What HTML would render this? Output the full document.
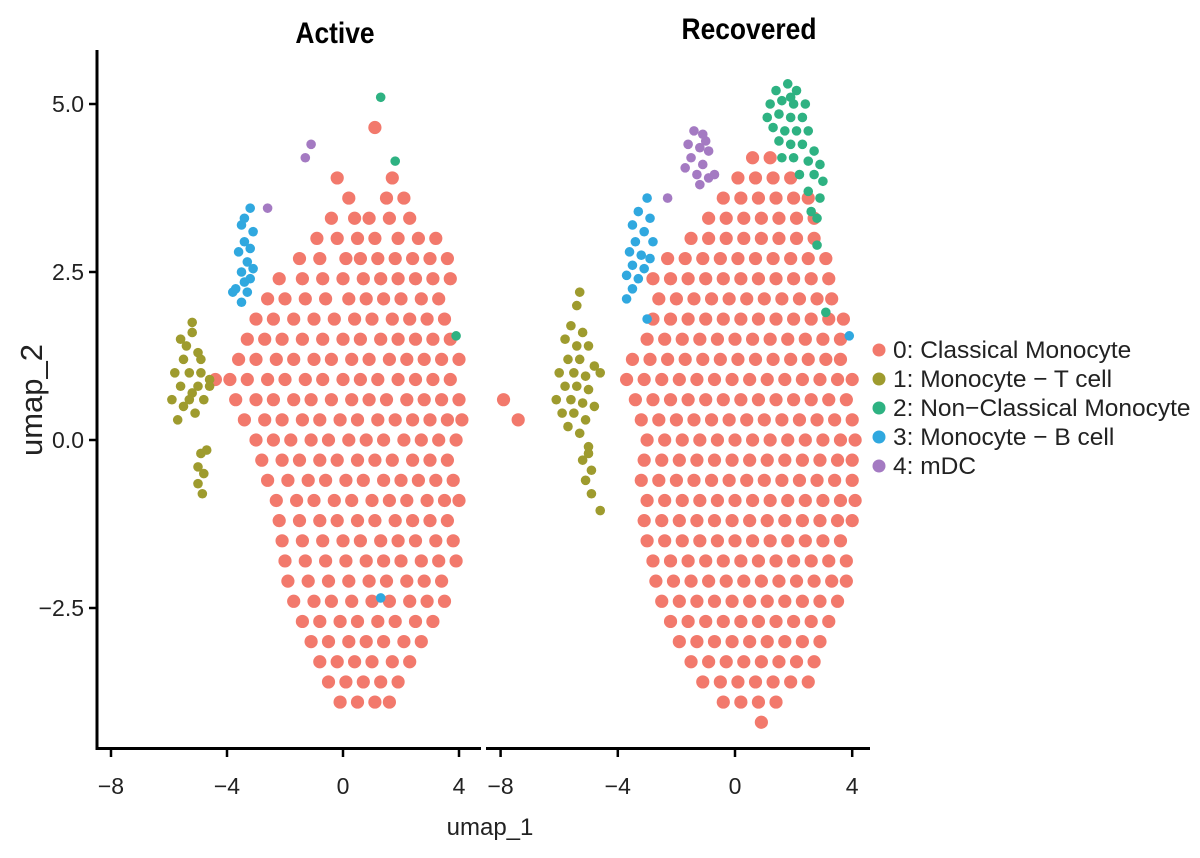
<!DOCTYPE html>
<html><head><meta charset="utf-8">
<style>
html,body{margin:0;padding:0;background:#fff;}
svg{display:block;font-family:"Liberation Sans",sans-serif;}
</style></head>
<body>
<svg id="chart" width="1200" height="858" viewBox="0 0 1200 858" xmlns="http://www.w3.org/2000/svg">
<g id="points"></g>
<g id="axes"></g>
</svg>
<script>
// ---- Data ----
const panels = ["Active", "Recovered"];
const clusterNames = ["0: Classical Monocyte","1: Monocyte \u2212 T cell","2: Non\u2212Classical Monocyte","3: Monocyte \u2212 B cell","4: mDC"];
const clusterColors = ["#F2796C","#9E9B2E","#2EB282","#30A8DF","#A47AC2"];
const xTicks = [-8,-4,0,4];
const xTickLabels = ["\u22128","\u22124","0","4"];
const yTicks = [5.0,2.5,0.0,-2.5];
const yTickLabels = ["5.0","2.5","0.0","\u22122.5"];

// rows: [y, x1, x2, ...] for cluster 0
const activeMainRows = [
[4.65,1.1],[3.9,1.7,-0.2],
[3.6,0.2,1.5,2.1],
[3.3,-0.4,0.4,0.9,1.6,2.3],
[3.0,-0.9,-0.2,0.5,1.1,1.9,2.6,3.2],
[2.7,-1.5,-0.8,0.1,0.6,1.2,1.8,2.4,3.0,3.6],
[2.4,-2.2,-1.4,-0.7,0.0,0.7,1.3,1.9,2.5,3.1,3.7],
[2.1,-2.6,-2.0,-1.3,-0.6,0.2,0.8,1.4,2.0,2.7,3.3],
[1.8,-3.0,-2.4,-1.7,-1.0,-0.3,0.4,1.0,1.7,2.3,2.9,3.5],
[1.5,-3.3,-2.7,-2.1,-1.4,-0.7,0.0,0.6,1.3,1.9,2.5,3.1,3.7],
[1.2,-3.6,-3.0,-2.3,-1.7,-1.0,-0.4,0.3,0.9,1.6,2.2,2.8,3.4,4.0],
[0.9,-4.4,-3.9,-3.3,-2.6,-2.0,-1.3,-0.7,0.0,0.6,1.2,1.9,2.5,3.1,3.7],
[0.6,-3.7,-3.0,-2.4,-1.7,-1.1,-0.4,0.3,0.9,1.5,2.2,2.8,3.4,4.0],
[0.3,-3.4,-2.7,-2.1,-1.4,-0.8,-0.1,0.5,1.2,1.8,2.4,3.0,3.6,4.1],
[0.0,-3.0,-2.4,-1.8,-1.1,-0.5,0.2,0.8,1.4,2.1,2.7,3.3,3.9],
[-0.3,-2.8,-2.1,-1.5,-0.8,-0.2,0.5,1.1,1.7,2.4,3.0,3.6],
[-0.6,-2.6,-1.9,-1.2,-0.6,0.1,0.7,1.4,2.0,2.6,3.2,3.8],
[-0.9,-2.3,-1.6,-1.0,-0.3,0.3,1.0,1.6,2.2,2.9,3.5,4.0],
[-1.2,-2.2,-1.5,-0.8,-0.2,0.5,1.1,1.8,2.4,3.0,3.6],
[-1.5,-2.1,-1.4,-0.7,0.0,0.6,1.3,1.9,2.5,3.2,3.8],
[-1.8,-2.0,-1.3,-0.6,0.1,0.8,1.4,2.0,2.7,3.3,3.9],
[-2.1,-1.9,-1.2,-0.5,0.2,0.9,1.5,2.2,2.8,3.4],
[-2.4,-1.7,-1.0,-0.4,0.3,1.0,1.6,2.3,2.9,3.5],
[-2.7,-1.4,-0.8,-0.1,0.5,1.2,1.8,2.5,3.1],
[-3.0,-1.1,-0.5,0.2,0.8,1.4,2.1,2.7],
[-3.3,-0.8,-0.2,0.4,1.0,1.7,2.3],
[-3.6,-0.5,0.1,0.7,1.3,1.9],
[-3.9,-0.1,0.5,1.1,1.6]
];
const activeOlive = [[-5.6,1.5],[-5.2,1.6],[-5.0,1.3],[-5.5,1.2],[-5.8,1.0],[-5.3,1.0],[-4.9,1.0],[-4.6,0.9],[-5.6,0.8],[-5.2,0.7],[-4.8,0.6],[-5.9,0.6],[-5.5,0.5],[-5.1,0.4],[-4.6,0.8],[-5.4,1.4],[-5.7,0.3],[-4.9,1.2],[-5.0,0.8],[-5.3,0.6],[-5.2,1.75],[-4.9,-0.2],[-5.0,-0.4],[-4.8,-0.5],[-5.0,-0.65],[-4.85,-0.8],[-4.7,-0.15]];
const activeGreen = [[1.3,5.1],[1.8,4.15],[3.9,1.55]];
const activeBlue = [[-3.2,3.45],[-3.5,3.2],[-3.1,3.1],[-3.4,2.95],[-3.2,2.85],[-3.6,2.8],[-3.3,2.65],[-3.1,2.55],[-3.5,2.5],[-3.4,2.35],[-3.7,2.25],[-3.3,2.2],[-3.5,2.05],[-3.8,2.2],[-3.2,2.4],[-3.4,3.3],[1.3,-2.35]];
const activePurple = [[-1.1,4.4],[-1.3,4.2],[-2.6,3.45]];

const recMainRows = [
[4.2,0.6,1.2],
[3.9,0.1,0.7,1.3,1.9],
[3.6,-0.4,0.2,0.8,1.4,2.0,2.5],
[3.3,-0.9,-0.3,0.3,0.9,1.5,2.1,2.7],
[3.0,-1.5,-0.9,-0.3,0.3,0.9,1.5,2.1,2.7],
[2.7,-2.3,-1.7,-1.1,-0.5,0.1,0.7,1.3,1.9,2.5,3.1],
[2.4,-2.8,-2.2,-1.6,-1.0,-0.4,0.2,0.8,1.4,2.0,2.6,3.2],
[2.1,-2.6,-2.0,-1.4,-0.8,-0.2,0.4,1.0,1.6,2.2,2.8,3.3],
[1.8,-2.8,-2.2,-1.6,-1.0,-0.4,0.2,0.8,1.4,2.0,2.6,3.2,3.7],
[1.5,-3.0,-2.4,-1.8,-1.2,-0.6,0.0,0.6,1.2,1.8,2.4,3.0,3.6],
[1.2,-3.5,-2.9,-2.3,-1.7,-1.1,-0.5,0.1,0.7,1.3,1.9,2.5,3.1,3.6],
[0.9,-3.7,-3.1,-2.5,-1.9,-1.3,-0.7,-0.1,0.5,1.1,1.7,2.3,2.9,3.5,4.0],
[0.6,-7.9,-3.4,-2.8,-2.2,-1.6,-1.0,-0.4,0.2,0.8,1.4,2.0,2.6,3.2,3.8],
[0.3,-7.4,-3.2,-2.6,-2.0,-1.4,-0.8,-0.2,0.4,1.0,1.6,2.2,2.8,3.4,4.0],
[0.0,-3.0,-2.4,-1.8,-1.2,-0.6,0.0,0.6,1.2,1.8,2.4,3.0,3.6,4.1],
[-0.3,-3.1,-2.5,-1.9,-1.3,-0.7,-0.1,0.5,1.1,1.7,2.3,2.9,3.5,4.0],
[-0.6,-3.2,-2.6,-2.0,-1.4,-0.8,-0.2,0.4,1.0,1.6,2.2,2.8,3.4,4.0],
[-0.9,-3.0,-2.4,-1.8,-1.2,-0.6,0.0,0.6,1.2,1.8,2.4,3.0,3.6,4.1],
[-1.2,-3.1,-2.5,-1.9,-1.3,-0.7,-0.1,0.5,1.1,1.7,2.3,2.9,3.5,4.0],
[-1.5,-3.0,-2.4,-1.8,-1.2,-0.6,0.0,0.6,1.2,1.8,2.4,3.0,3.6],
[-1.8,-2.8,-2.2,-1.6,-1.0,-0.4,0.2,0.8,1.4,2.0,2.6,3.2,3.8],
[-2.1,-2.7,-2.1,-1.5,-0.9,-0.3,0.3,0.9,1.5,2.1,2.7,3.3,3.8],
[-2.4,-2.5,-1.9,-1.3,-0.7,-0.1,0.5,1.1,1.7,2.3,2.9,3.5],
[-2.7,-2.2,-1.6,-1.0,-0.4,0.2,0.8,1.4,2.0,2.6,3.2],
[-3.0,-1.9,-1.3,-0.7,-0.1,0.5,1.1,1.7,2.3,2.9],
[-3.3,-1.5,-0.9,-0.3,0.3,0.9,1.5,2.1,2.7],
[-3.6,-1.1,-0.5,0.1,0.7,1.3,1.9,2.5],
[-3.9,-0.4,0.2,0.8,1.4],
[-4.2,0.9]
];
const recOlive = [[-5.3,2.2],[-5.4,2.0],[-5.6,1.7],[-5.2,1.6],[-5.8,1.5],[-5.4,1.4],[-5.0,1.4],[-5.7,1.2],[-5.3,1.2],[-4.8,1.1],[-6.0,1.0],[-5.5,1.0],[-5.1,0.95],[-4.6,1.0],[-5.8,0.8],[-5.4,0.8],[-5.0,0.75],[-6.1,0.6],[-5.6,0.6],[-5.2,0.55],[-4.8,0.5],[-5.9,0.4],[-5.5,0.4],[-5.1,0.3],[-5.7,0.2],[-5.3,0.1],[-5.0,-0.1],[-5.2,-0.3],[-4.9,-0.45],[-5.1,-0.6],[-4.9,-0.8],[-4.6,-1.05],[-5.0,-0.2]];
const recGreen = [[1.4,5.2],[1.8,5.3],[2.1,5.2],[1.2,5.0],[1.6,5.05],[2.0,5.0],[2.4,5.0],[1.1,4.8],[1.5,4.85],[1.9,4.8],[2.3,4.8],[1.3,4.65],[1.7,4.6],[2.1,4.6],[2.5,4.6],[1.5,4.45],[1.9,4.4],[2.3,4.4],[2.7,4.3],[2.0,4.2],[2.5,4.15],[2.9,4.1],[2.2,3.95],[2.7,3.95],[3.0,3.85],[2.5,3.7],[2.9,3.6],[2.6,3.4],[2.8,3.3],[2.8,2.9],[1.6,4.2],[3.1,1.9],[1.9,5.1]];
const recBlue = [[-3.0,3.6],[-3.3,3.4],[-2.9,3.3],[-3.5,3.2],[-3.1,3.1],[-3.4,2.95],[-2.8,2.95],[-3.6,2.8],[-3.2,2.75],[-2.9,2.7],[-3.5,2.6],[-3.1,2.55],[-3.7,2.45],[-3.3,2.4],[-3.5,2.25],[-3.7,2.1],[-3.0,1.8],[3.9,1.55]];
const recPurple = [[-1.4,4.6],[-1.1,4.55],[-1.6,4.4],[-1.2,4.35],[-0.9,4.3],[-1.5,4.2],[-1.1,4.1],[-1.7,4.05],[-1.3,3.95],[-0.9,3.9],[-1.2,3.8],[-2.3,3.6],[-1.0,4.45],[-0.7,3.95]];

// ---- Scales ----
const panelX0 = [343, 735];
const pxPerX = [29.0, 29.3];
const yZero = 440, pxPerY = 67.2;
function xScale(p, v){ return panelX0[p] + v*pxPerX[p]; }
function yScale(v){ return yZero - v*pxPerY; }

const NS = "http://www.w3.org/2000/svg";
const ptsG = document.getElementById('points');
const axG = document.getElementById('axes');
function mk(tag, attrs, parent){
  const e = document.createElementNS(NS, tag);
  for (const k in attrs) e.setAttribute(k, attrs[k]);
  parent.appendChild(e); return e;
}
function dot(p, x, y, c, name, r){
  const e = mk('circle', {cx: xScale(p,x), cy: yScale(y), r: r, fill: clusterColors[c]}, ptsG);
  
  
}
function drawRows(p, rows, name){
  rows.forEach(r => { for (let i=1;i<r.length;i++) dot(p, r[i], r[0], 0, name, 6.6); });
}
function drawPts(p, arr, c, name){ arr.forEach(d => dot(p, d[0], d[1], c, name, 4.8)); }

drawRows(0, activeMainRows, 'active-classical-monocyte-point');
drawPts(0, activeOlive, 1, 'active-monocyte-t-cell-point');
drawPts(0, activeGreen, 2, 'active-non-classical-point');
drawPts(0, activeBlue, 3, 'active-monocyte-b-cell-point');
drawPts(0, activePurple, 4, 'active-mdc-point');
drawRows(1, recMainRows, 'recovered-classical-monocyte-point');
drawPts(1, recOlive, 1, 'recovered-monocyte-t-cell-point');
drawPts(1, recGreen, 2, 'recovered-non-classical-point');
drawPts(1, recBlue, 3, 'recovered-monocyte-b-cell-point');
drawPts(1, recPurple, 4, 'recovered-mdc-point');

// ---- Axes ----
let e;
e = mk('line', {x1:97, y1:50, x2:97, y2:750, stroke:'#000', 'stroke-width':3}, axG);


const bottomSpans = [[96,481],[486,870]];
const titleX = [335,749], titleY = [43,39];
bottomSpans.forEach((s, p) => {
  e = mk('line', {x1:s[0], y1:748.5, x2:s[1], y2:748.5, stroke:'#000', 'stroke-width':3}, axG);
  
  
  xTicks.forEach((t, i) => {
    const x = xScale(p, t);
    e = mk('line', {x1:x, y1:748, x2:x, y2:757, stroke:'#000', 'stroke-width':2.5}, axG);
    
    
    e = mk('text', {x:x, y:794, 'text-anchor':'middle', 'font-size':23, fill:'#222'}, axG);
    e.textContent = xTickLabels[i];
    
    
  });
  e = mk('text', {x:titleX[p], y:titleY[p], 'text-anchor':'middle', 'font-size':30, 'font-weight':'bold', fill:'#000', transform:'translate('+titleX[p]+',0) scale(0.88,1) translate('+(-titleX[p])+',0)'}, axG);
  e.textContent = panels[p];
  
  
});
yTicks.forEach((t, i) => {
  const y = yScale(t);
  e = mk('line', {x1:89, y1:y, x2:97, y2:y, stroke:'#000', 'stroke-width':2.5}, axG);
  
  
  e = mk('text', {x:84, y:y+8, 'text-anchor':'end', 'font-size':23, fill:'#222'}, axG);
  e.textContent = yTickLabels[i];
  
  
});
e = mk('text', {x:490, y:835, 'text-anchor':'middle', 'font-size':24, fill:'#222'}, axG);
e.textContent = 'umap_1';


e = mk('text', {x:0, y:0, 'text-anchor':'middle', 'font-size':31, fill:'#222', transform:'translate(42,400) rotate(-90)'}, axG);
e.textContent = 'umap_2';



// ---- Legend ----
clusterNames.forEach((n, i) => {
  const y = 350 + i*29;
  e = mk('circle', {cx:879, cy:y, r:6.5, fill:clusterColors[i]}, axG);
  
  
  e = mk('text', {x:893, y:y+8, 'font-size':24.5, fill:'#222'}, axG);
  e.textContent = n;
  
  
});
</script>
</body></html>
